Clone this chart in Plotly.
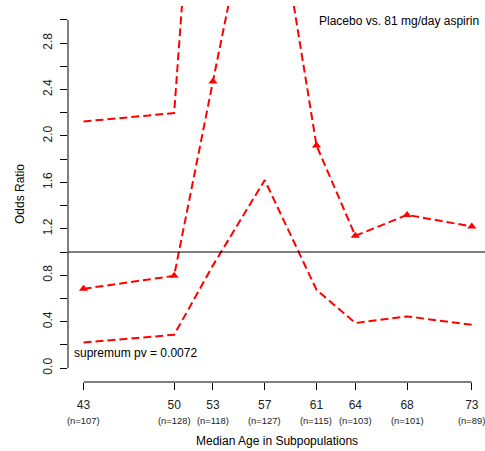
import plotly.graph_objects as go

ages = [43, 50, 53, 57, 61, 64, 68, 73]
n_labels = ["(n=107)", "(n=128)", "(n=118)", "(n=127)", "(n=115)", "(n=103)", "(n=101)", "(n=89)"]
odds_ratio = [0.683, 0.795, 2.47, 4.67, 1.918, 1.14, 1.32, 1.22]
lower_ci = [0.22, 0.287, 0.885, 1.62, 0.675, 0.388, 0.445, 0.373]
upper_ci = [2.125, 2.197, 6.8, 13.5, 5.46, 3.35, 3.9, 3.95]
y_ticks = [round(0.2 * i, 1) for i in range(16)]
y_ticktext = [f"{v:.1f}" if i % 2 == 0 else "" for i, v in enumerate(y_ticks)]

RED = "#FF0000"
FONT = "Liberation Sans, Arial, Helvetica, sans-serif"
line_style = dict(color=RED, width=2, dash="8px,4px")

fig = go.Figure()
fig.add_trace(go.Scatter(x=ages, y=upper_ci, mode="lines", line=line_style,
                         showlegend=False, hoverinfo="skip"))
fig.add_trace(go.Scatter(x=ages, y=lower_ci, mode="lines", line=line_style,
                         showlegend=False, hoverinfo="skip"))
fig.add_trace(go.Scatter(x=ages, y=odds_ratio, mode="lines+markers", line=line_style,
                         marker=dict(symbol="triangle-up", size=8, color=RED),
                         showlegend=False))

# reference line at OR = 1
fig.add_shape(type="line", xref="paper", yref="y", x0=0, x1=1, y0=1, y1=1,
              line=dict(color="black", width=1))
# R-style axis lines
fig.add_shape(type="line", xref="paper", yref="y", x0=0, x1=0, y0=0, y1=3.0,
              line=dict(color="black", width=1))
fig.add_shape(type="line", xref="x", yref="paper", x0=ages[0], x1=ages[-1], y0=0, y1=0,
              line=dict(color="black", width=1))

annotations = []
for a, n in zip(ages, n_labels):
    annotations.append(dict(x=a, y=0, xref="x", yref="paper", text=n, showarrow=False,
                            yanchor="middle", xanchor="center", yshift=-38,
                            font=dict(family=FONT, size=9.4, color="#222222")))
annotations.append(dict(x=1, y=1, xref="paper", yref="paper", xanchor="right", yanchor="middle",
                        xshift=-4, yshift=-14.5, text="Placebo vs. 81 mg/day aspirin",
                        showarrow=False, font=dict(family=FONT, size=12, color="black")))
annotations.append(dict(x=0, y=0, xref="paper", yref="paper", xanchor="left", yanchor="middle",
                        xshift=4, yshift=29, text="supremum pv = 0.0072",
                        showarrow=False, font=dict(family=FONT, size=12, color="black")))
annotations.append(dict(x=0, y=0.5, xref="paper", yref="paper", xanchor="center", yanchor="middle",
                        xshift=-48, text="Odds Ratio", textangle=-90,
                        showarrow=False, font=dict(family=FONT, size=12, color="black")))
annotations.append(dict(x=0.5, y=0, xref="paper", yref="paper", xanchor="center", yanchor="middle",
                        yshift=-59, text="Median Age in Subpopulations",
                        showarrow=False, font=dict(family=FONT, size=12, color="black")))

fig.update_layout(
    width=485, height=451,
    margin=dict(l=68, r=0, t=6, b=69),
    paper_bgcolor="white", plot_bgcolor="white",
    font=dict(family=FONT, size=12, color="black"),
    annotations=annotations,
    xaxis=dict(range=[41.8, 74.02], tickvals=ages, ticktext=[str(a) for a in ages],
               ticks="outside", ticklen=7, tickcolor="black", tickwidth=1,
               showgrid=False, zeroline=False, showline=False,
               tickfont=dict(family=FONT, size=12, color="#222222"), ticklabelstandoff=5),
    yaxis=dict(range=[-0.12, 3.12], tickvals=y_ticks, ticktext=y_ticktext,
               ticks="outside", ticklen=7, tickcolor="black", tickwidth=1,
               tickangle=-90, showgrid=False, zeroline=False, showline=False,
               tickfont=dict(family=FONT, size=12, color="#222222"), ticklabelstandoff=3),
)

fig.write_html("out.html", config={"displayModeBar": False},
               post_script="document.body.style.margin='0';document.body.style.overflow='hidden';")
